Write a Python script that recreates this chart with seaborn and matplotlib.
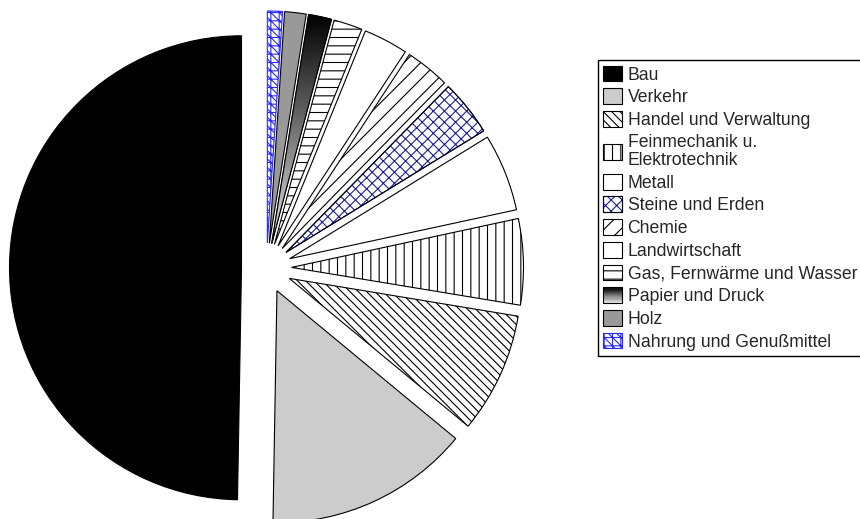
import matplotlib
matplotlib.use("Agg")
import matplotlib.pyplot as plt
import seaborn as sns
import numpy as np
from matplotlib.patches import Patch, Rectangle, Wedge
from matplotlib.colors import LinearSegmentedColormap
from matplotlib.legend_handler import HandlerBase, HandlerTuple

# Data: share of sectors (percent), counter-clockwise from the top
sectors = ['Bau', 'Verkehr', 'Handel und Verwaltung', 'Feinmechanik u.\nElektrotechnik',
           'Metall', 'Steine und Erden', 'Chemie', 'Landwirtschaft',
           'Gas, Fernwärme und Wasser', 'Papier und Druck', 'Holz', 'Nahrung und Genußmittel']
shares = [49.8, 14.3, 8.4, 6.0, 5.4, 3.9, 3.1, 3.1, 2.0, 1.6, 1.5, 1.05]

# styles per slice
faces = ['black', '#cccccc', 'white', 'white', 'white', 'white', 'white', 'white',
         'white', 'white', '#999999', 'white']
hatches = [None, None, '\\\\\\\\', '||', None, 'xxx', '//', None, '--', None, None, '++\\\\\\\\']
hatch_colors = ['black'] * 12
hatch_colors[5] = '#1e1e96'
hatch_colors[11] = '#2828ff'
GRADIENT = 9  # Papier und Druck

sns.set_theme(style="white")
plt.rcParams['font.family'] = ['Liberation Sans', 'DejaVu Sans']
plt.rcParams['hatch.linewidth'] = 0.8

grad_cmap = LinearSegmentedColormap.from_list('grad', ['black', '#e4e4e4'])


class GradientHandler(HandlerBase):
    def create_artists(self, legend, orig_handle, xdescent, ydescent, width, height, fontsize, trans):
        n = 14
        arts = []
        for i in range(n):
            arts.append(Rectangle((-xdescent, -ydescent + height * (1 - (i + 1) / n)), width, height / n,
                                  facecolor=grad_cmap(i / (n - 1)), edgecolor='none', transform=trans))
        arts.append(Rectangle((-xdescent, -ydescent), width, height, facecolor='none',
                              edgecolor='black', lw=0.8, transform=trans))
        return arts


fig = plt.figure(figsize=(8.6, 5.19), dpi=100)
R = 232.0
cx, cy = 266.5, 268.0
ax = fig.add_axes([0, 0, 540 / 860, 1])

wedges, _ = ax.pie(shares, explode=[25 / R] * len(shares), startangle=90, counterclock=True,
                   radius=1, wedgeprops=dict(edgecolor='black', linewidth=0.8))

for i, w in enumerate(wedges):
    w.set_facecolor(faces[i])
    if hatches[i]:
        w.set_hatch(hatches[i])
        w.set_edgecolor(hatch_colors[i])
    if hatch_colors[i] != 'black' and i != 11:
        ax.add_patch(Wedge(w.center, w.r, w.theta1, w.theta2, fill=False,
                           edgecolor='black', linewidth=0.8, zorder=w.get_zorder() + 1))

# gradient fill for Papier und Druck
gw = wedges[GRADIENT]
verts = gw.get_path().vertices
xmin, xmax = verts[:, 0].min(), verts[:, 0].max()
ymin, ymax = verts[:, 1].min(), verts[:, 1].max()
grad = np.linspace(0, 1, 256).reshape(-1, 1)
im = ax.imshow(grad, cmap=grad_cmap, extent=(xmin, xmax, ymin, ymax), aspect='auto',
               origin='upper', zorder=gw.get_zorder() + 0.5)
im.set_clip_path(gw)
ax.add_patch(Wedge(gw.center, gw.r, gw.theta1, gw.theta2, fill=False,
                   edgecolor='black', linewidth=0.8, zorder=gw.get_zorder() + 1))

ax.set_aspect('auto')
ax.set_xlim(-cx / R, (540 - cx) / R)
ax.set_ylim(-(519 - cy) / R, cy / R)
ax.axis('off')

# legend
handles = []
for i in range(len(sectors)):
    if hatches[i] and hatch_colors[i] != 'black':
        p = Patch(facecolor=faces[i], edgecolor=hatch_colors[i], hatch=hatches[i], lw=0.8)
        if i == 11:
            handles.append(p)
        else:
            handles.append((p, Patch(facecolor='none', edgecolor='black', lw=0.8)))
    else:
        handles.append(Patch(facecolor=faces[i], edgecolor='black', hatch=hatches[i], lw=0.8))

grad_handle = Patch(facecolor='gray')
handles[GRADIENT] = grad_handle

leg = fig.legend(handles, sectors, loc='upper left', bbox_to_anchor=(597.7 / 860, 1 - 60 / 519),
                 bbox_transform=fig.transFigure, fontsize=12.7, handlelength=1.03, handleheight=1.0,
                 handletextpad=0.34, borderpad=0.32, labelspacing=0.27, borderaxespad=0,
                 fancybox=False, framealpha=1, edgecolor='black',
                 handler_map={grad_handle: GradientHandler(), tuple: HandlerTuple(ndivide=1)})
leg.get_frame().set_linewidth(1.0)
leg.get_texts()[3].set_linespacing(1.1)

fig.savefig('out.png', dpi=100)
